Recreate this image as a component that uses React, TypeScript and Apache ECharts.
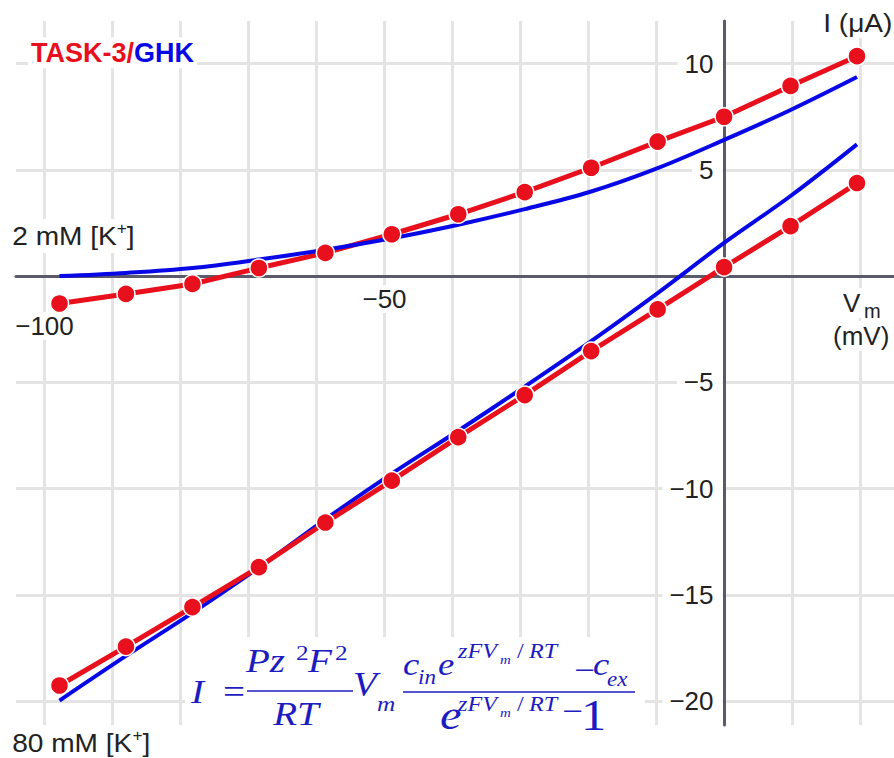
import React, { useEffect, useRef } from "react";
import * as echarts from "echarts";

// ---- data ----
const voltages = [-100, -90, -80, -70, -60, -50, -40, -30, -20, -10, 0, 10, 20];
const task3K2 = [-1.29, -0.84, -0.37, 0.38, 1.09, 1.97, 2.91, 3.95, 5.1, 6.33, 7.5, 8.95, 10.35];
const ghkK2 = [0.0, 0.15, 0.38, 0.78, 1.24, 1.78, 2.42, 3.15, 3.98, 5.08, 6.41, 7.82, 9.37];
const task3K80 = [-19.27, -17.44, -15.58, -13.7, -11.6, -9.63, -7.58, -5.6, -3.53, -1.57, 0.42, 2.35, 4.38];
const ghkK80 = [-19.98, -17.88, -15.85, -13.72, -11.45, -9.3, -7.28, -5.2, -3.06, -0.8, 1.56, 3.77, 6.2];

const xTickLabels = [-100, -50];
const yTickLabels = [-20, -15, -10, -5, 5, 10];

// ---- styles ----
const SANS = "'Liberation Sans', Arial, Helvetica, sans-serif";
const SERIF = "'Liberation Serif', 'Times New Roman', serif";
const RED = "#e8101c";
const BLUE = "#0808e6";
const FORMULA = "#1c1cc0";
const GRIDC = "#e4e4e4";
const AXISC = "#5a5a6a";
const TEXTC = "#222";

// layout (pixels)
const X_ZERO = 724.5; // x pixel of 0 mV on the grid axis
const Y_ZERO = 276.1; // y pixel of 0 uA
const GRID_A = { left: 16, right: 0, top: 63.7, bottom: 57 };
const GRID_B = { left: 44.5, right: 33.5, top: 21, bottom: 33 };
const GRID_C = { left: 59.5, right: 37, top: 21, bottom: 33 };

const fmt = (v: number) => (v < 0 ? "\u2212" + Math.abs(v) : String(v));
const pairs = (ys: number[]) => voltages.map((v, i) => [v, ys[i]]);

type TOpt = {
  italic?: boolean;
  bold?: boolean;
  family?: string;
  fill?: string;
  align?: string;
  sx?: number;
  bg?: boolean;
  rich?: any;
  z?: number;
};
const txt = (x: number, baseline: number, text: string, size: number, o: TOpt = {}) => {
  const align = o.align ?? "left";
  const style: any = {
    text,
    fill: o.fill ?? TEXTC,
    fontSize: size,
    fontFamily: o.family ?? SANS,
    fontStyle: o.italic ? "italic" : "normal",
    fontWeight: o.bold ? "bold" : "normal",
    align,
    verticalAlign: "middle",
    textAlign: align,
    textVerticalAlign: "middle",
  };
  if (o.bg) {
    style.backgroundColor = "#fff";
    style.padding = [2, 3];
  }
  if (o.rich) style.rich = o.rich;
  return {
    type: "text",
    z: o.z ?? 30,
    x: o.bg && align === "left" ? x - 3 : x,
    y: baseline - 0.345 * size,
    scaleX: o.sx ?? 1,
    silent: true,
    style,
  };
};

const SX = 1.15;
const ft = (x: number, bl: number, t: string, size: number, italic = true, align = "left") =>
  txt(x, bl, t, size, { italic, family: SERIF, fill: FORMULA, align, sx: SX });

const kRich = {
  n: { fontSize: 26, fontFamily: SANS, fill: TEXTC, color: TEXTC, lineHeight: 30 },
  s: { fontSize: 16, fontFamily: SANS, fill: TEXTC, color: TEXTC, lineHeight: 24, verticalAlign: "top" },
};

const graphics: any[] = [
  // white panel behind the formula
  { type: "rect", z: 1, silent: true, shape: { x: 185, y: 637, width: 460, height: 121 }, style: { fill: "#fff" } },
  // title
  txt(31, 62, "{r|TASK-3/}{b|GHK}", 27, {
    bold: true,
    bg: true,
    rich: {
      r: { fontSize: 27, fontWeight: "bold", fontFamily: SANS, fill: RED, color: RED },
      b: { fontSize: 27, fontWeight: "bold", fontFamily: SANS, fill: BLUE, color: BLUE },
    },
  }),
  txt(823, 32, "I (\u03bcA)", 26, { bg: true, sx: 1.08 }),
  txt(843, 312, "V", 26, { bg: true }),
  txt(864, 318, "m", 20, { bg: true }),
  txt(833, 345, "(mV)", 26, { bg: true }),
  txt(12, 245, "{n|2 mM [K}{s|+}{n|]}", 26, { bg: true, rich: kRich, sx: 1.08 }),
  txt(12, 752, "{n|80 mM [K}{s|+}{n|]}", 26, { bg: true, rich: kRich, sx: 1.08 }),
  // formula
  ft(191, 703, "I", 34),
  ft(223, 703, "=", 34, false),
  { type: "line", z: 30, silent: true, shape: { x1: 247, y1: 691, x2: 353, y2: 691 }, style: { stroke: FORMULA, lineWidth: 1.6 } },
  ft(246, 672, "Pz", 34),
  ft(296, 660, "2", 22, false),
  ft(308, 672, "F", 34),
  ft(335, 660, "2", 22, false),
  ft(296, 725, "RT", 34, true, "center"),
  ft(353, 695, "V", 34),
  ft(377, 711, "m", 22),
  { type: "line", z: 30, silent: true, shape: { x1: 403, y1: 692, x2: 635, y2: 692 }, style: { stroke: FORMULA, lineWidth: 1.6 } },
  ft(403, 675, "c", 32),
  ft(418, 684, "in", 20),
  ft(438, 675, "e", 32),
  ft(458, 658, "zFV", 21),
  ft(500, 664, "m", 13),
  ft(517, 658, "/", 21, false),
  ft(529, 658, "RT", 21),
  ft(574, 681, "\u2212", 32, false),
  ft(593, 675, "c", 32),
  ft(607, 686, "ex", 20),
  ft(440, 730, "e", 42),
  ft(458, 711, "zFV", 21),
  ft(500, 717, "m", 13),
  ft(517, 711, "/", 21, false),
  ft(529, 711, "RT", 21),
  ft(562, 722, "\u2212", 32, false),
  ft(581, 730, "1", 44, false),
];

const redSeries = (ys: number[]) => ({
  type: "line",
  xAxisIndex: 3,
  yAxisIndex: 3,
  data: pairs(ys),
  symbol: "circle",
  symbolSize: 18,
  showSymbol: true,
  clip: false,
  z: 10,
  silent: true,
  lineStyle: { color: RED, width: 5 },
  itemStyle: { color: RED, borderColor: "#fff", borderWidth: 1.5 },
});
const blueSeries = (ys: number[]) => ({
  type: "line",
  xAxisIndex: 3,
  yAxisIndex: 3,
  data: pairs(ys),
  smooth: 0.35,
  symbol: "none",
  showSymbol: false,
  clip: false,
  z: 10,
  silent: true,
  lineStyle: { color: BLUE, width: 4 },
});

const option: any = {
  animation: false,
  backgroundColor: "#fff",
  grid: [GRID_A, GRID_B, GRID_C],
  xAxis: [
    {
      gridIndex: 0, type: "value", min: -104.19, max: 24.93, position: "bottom", z: 4,
      axisLine: { show: true, onZero: true, lineStyle: { color: AXISC, width: 3 } },
      axisTick: { show: false }, axisLabel: { show: false }, splitLine: { show: false },
    },
    {
      gridIndex: 1, type: "value", min: -100, max: 20, interval: 10, position: "bottom", z: 0,
      axisLine: { show: false, onZero: false }, axisTick: { show: false }, axisLabel: { show: false },
      splitLine: { show: true, lineStyle: { color: GRIDC, width: 3 } },
    },
    {
      gridIndex: 1, type: "value", min: -100, max: 20, interval: 10, position: "bottom", z: 5,
      offset: -(758 - GRID_B.bottom - Y_ZERO),
      axisLine: { show: false, onZero: false },
      axisTick: { show: false }, splitLine: { show: false },
      axisLabel: {
        show: true, margin: 10, lineHeight: 27, showMinLabel: true, showMaxLabel: true, hideOverlap: false,
        formatter: (v: number) => {
          if (!xTickLabels.includes(v)) return "";
          return (v === xTickLabels[0] ? "\n" : "") + "{a|" + fmt(v) + "}";
        },
        rich: { a: { fontSize: 26, fontFamily: SANS, color: TEXTC, backgroundColor: "#fff", padding: [1, 3], lineHeight: 26 } },
      },
    },
    { gridIndex: 2, type: "value", min: -100, max: 20, show: false },
  ],
  yAxis: [
    {
      gridIndex: 0, type: "value", min: -20, max: 10, interval: 5, position: "left", z: 0,
      axisLine: { show: false, onZero: false }, axisTick: { show: false }, axisLabel: { show: false },
      splitLine: { show: true, lineStyle: { color: GRIDC, width: 3 } },
    },
    {
      gridIndex: 0, type: "value", min: -20, max: 10, interval: 5, position: "left", z: 5,
      offset: -(X_ZERO - GRID_A.left),
      axisLine: { show: false, onZero: false },
      axisTick: { show: false }, splitLine: { show: false },
      axisLabel: {
        show: true, margin: 2, showMinLabel: true, showMaxLabel: true, hideOverlap: false,
        formatter: (v: number) => (yTickLabels.includes(v) ? "{a|" + fmt(v) + "}" : ""),
        rich: { a: { fontSize: 26, fontFamily: SANS, color: TEXTC, backgroundColor: "#fff", padding: [1, 9, 1, 7], lineHeight: 28 } },
      },
    },
    {
      gridIndex: 1, type: "value", min: -21.13, max: 12.007, position: "left", z: 4,
      axisLine: { show: true, onZero: true, lineStyle: { color: AXISC, width: 3 } },
      axisTick: { show: false }, axisLabel: { show: false }, splitLine: { show: false },
    },
    { gridIndex: 2, type: "value", min: -21.13, max: 12.007, show: false },
  ],
  graphic: { elements: graphics },
  series: [blueSeries(ghkK80), redSeries(task3K80), redSeries(task3K2), blueSeries(ghkK2)],
};

export default function App() {
  const ref = useRef<HTMLDivElement>(null);
  useEffect(() => {
    const chart = echarts.init(ref.current as HTMLDivElement, null, { renderer: "svg" });
    chart.setOption(option);
    return () => chart.dispose();
  }, []);
  return (
    <div
      ref={ref}
      style={{ position: "absolute", left: 0, top: 0, width: 894, height: 758, background: "#fff" }}
    />
  );
}
